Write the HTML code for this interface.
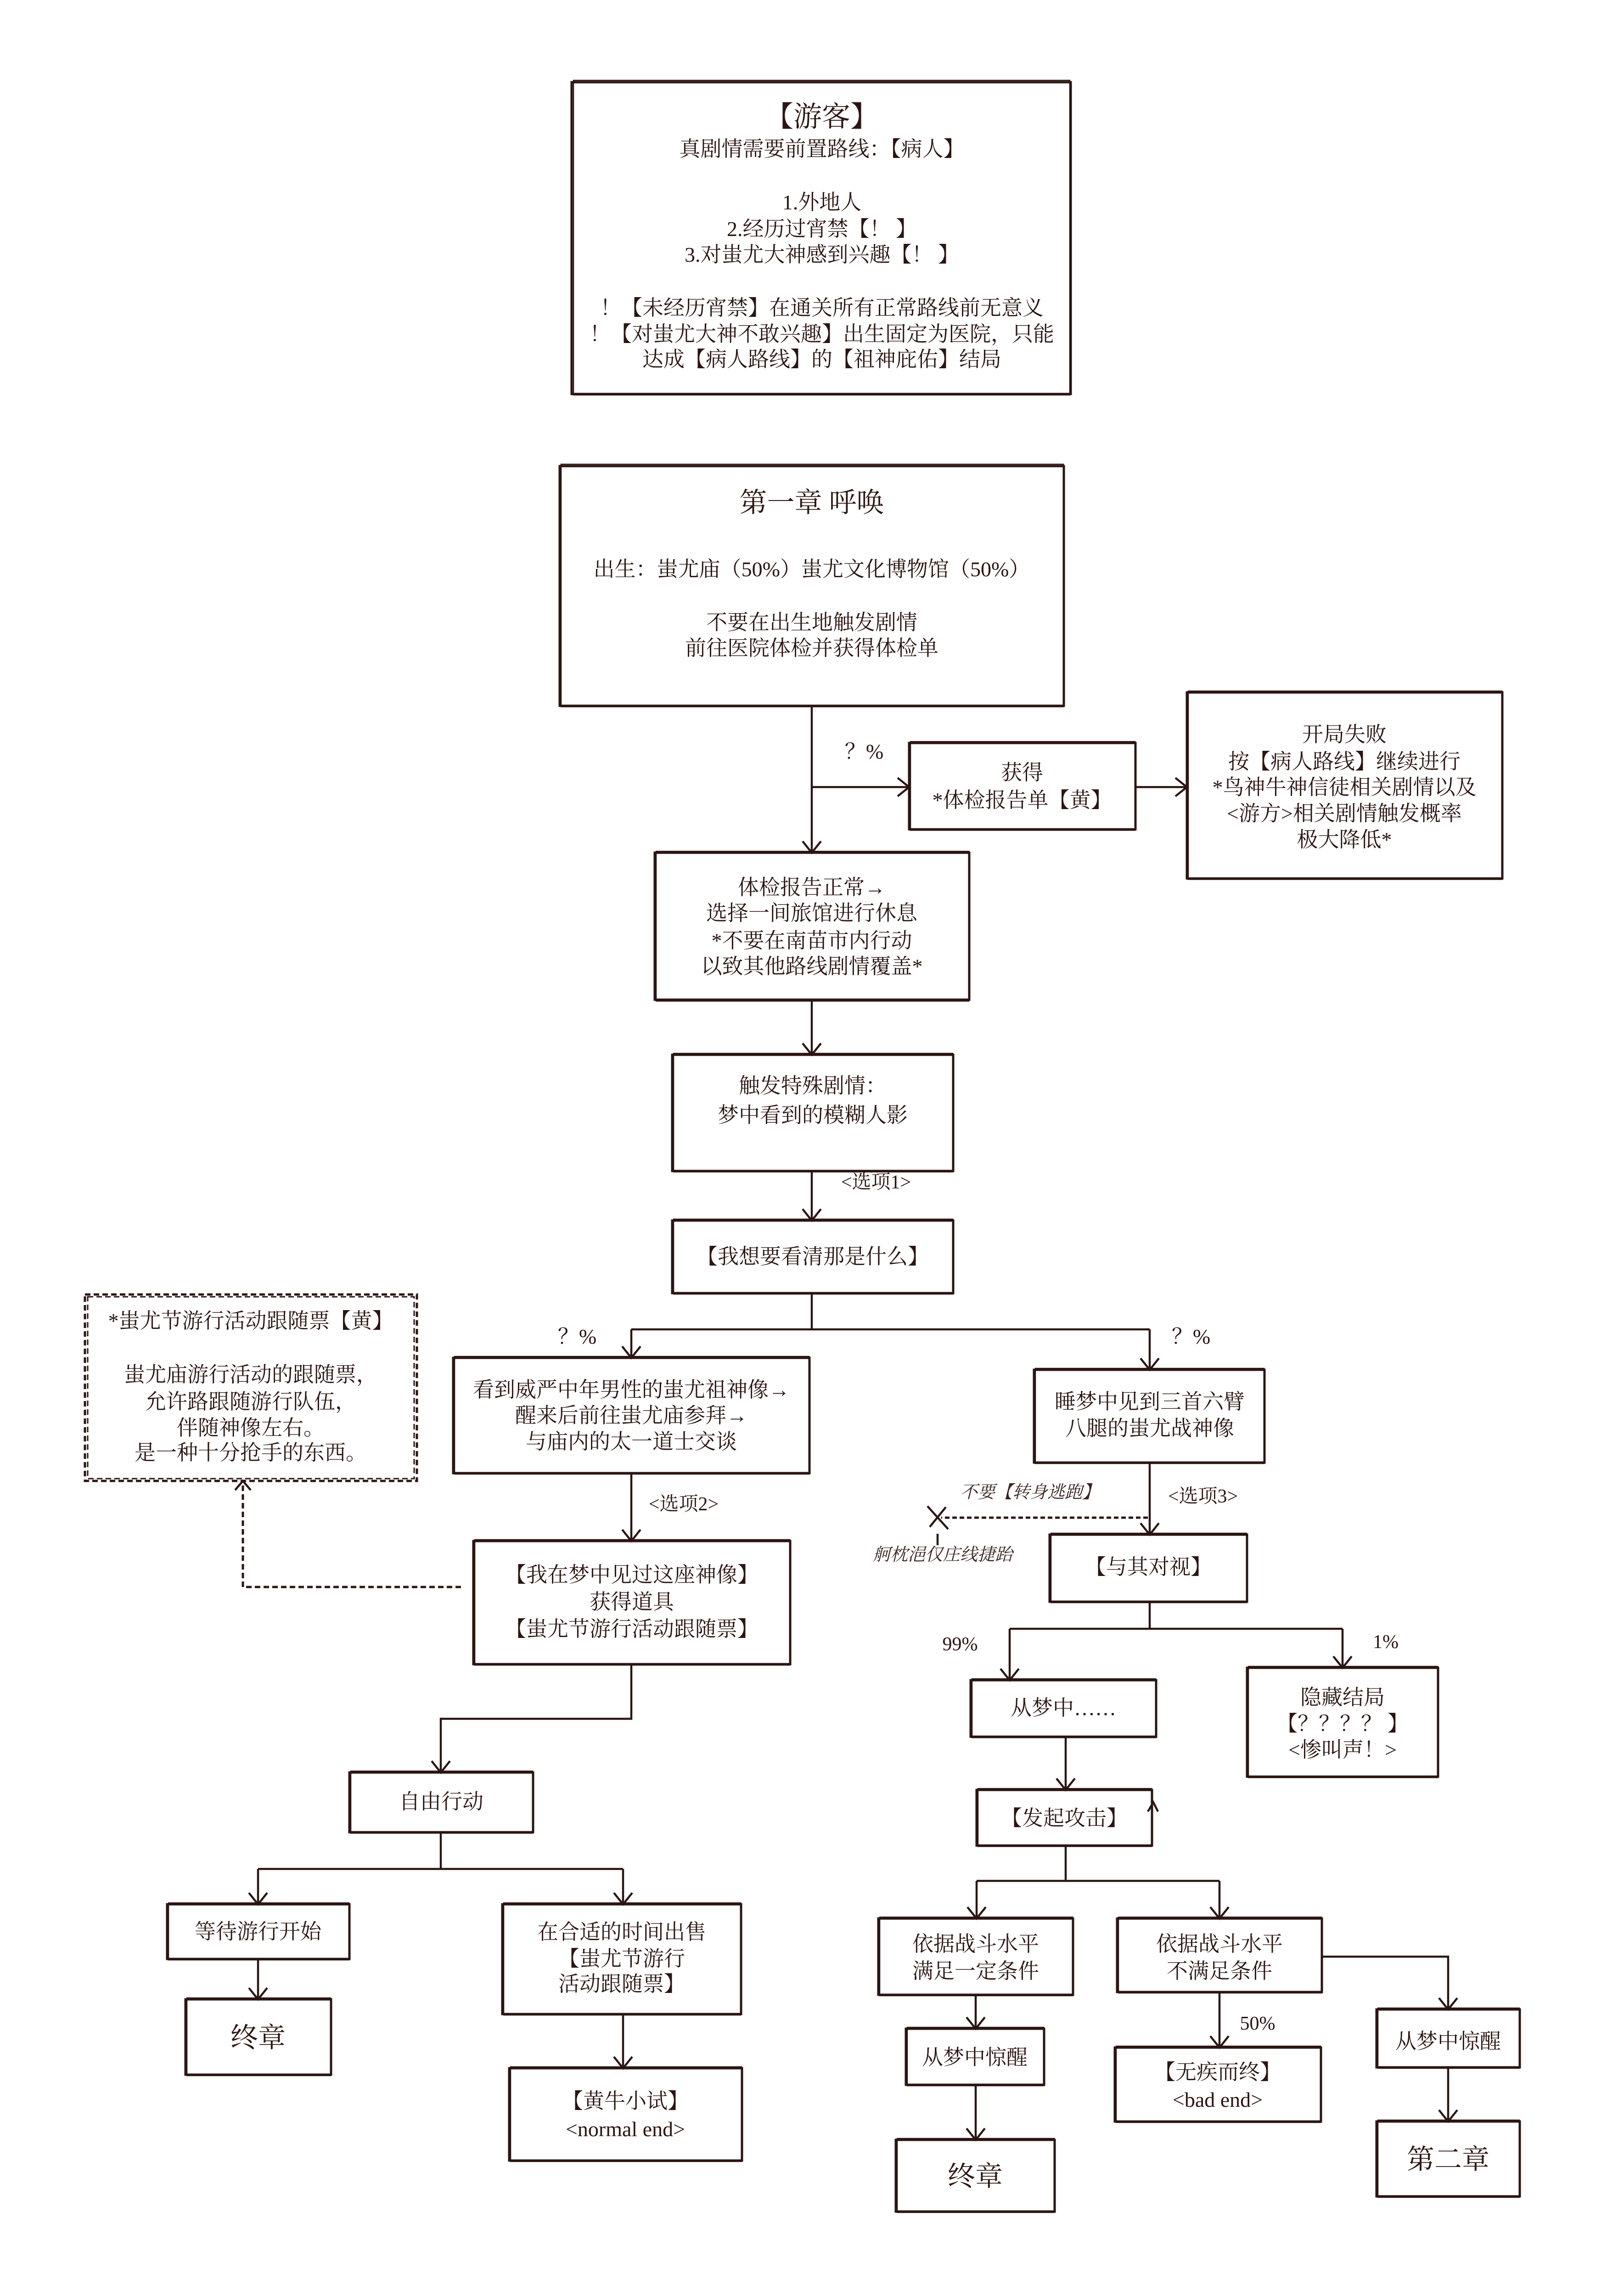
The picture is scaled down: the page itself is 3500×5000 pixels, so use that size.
<!DOCTYPE html>
<html><head><meta charset="utf-8"><style>
html,body{margin:0;padding:0;background:#fff;}
svg{display:block;}
text{font-family:"Liberation Serif","Noto Serif CJK SC",serif;fill:#2b1512;text-anchor:middle;}
.b{fill:none;stroke:#2b1512;stroke-width:5;}
.b2{fill:none;stroke:#2b1512;stroke-width:2.5;}
.l{fill:none;stroke:#2b1512;stroke-width:4.5;}
.d{fill:none;stroke:#2b1512;stroke-width:5;stroke-dasharray:12 7;}
</style></head><body>
<svg width="3500" height="5000" viewBox="0 0 3500 5000" xmlns="http://www.w3.org/2000/svg">
<defs>
<marker id="a" markerWidth="14" markerHeight="14" refX="12" refY="7" orient="auto" markerUnits="userSpaceOnUse" viewBox="0 0 14 14">
</marker>
</defs>
<g id="boxes">
<!-- 游客 -->
<rect class="b" x="1245" y="179" width="1087" height="679"/><rect class="b2" x="1249" y="175" width="1081" height="685"/>
<!-- 第一章 -->
<rect class="b" x="1219" y="1015" width="1098" height="522"/><rect class="b2" x="1222" y="1011" width="1094" height="528"/>
<!-- 获得 -->
<rect class="b" x="1980" y="1618" width="493" height="188"/><rect class="b2" x="1983" y="1615" width="489" height="193"/>
<!-- 开局失败 -->
<rect class="b" x="2585" y="1508" width="687" height="405"/><rect class="b2" x="2588" y="1505" width="683" height="410"/>
<!-- 体检报告 -->
<rect class="b" x="1426" y="1857" width="685" height="320"/><rect class="b2" x="1429" y="1854" width="681" height="326"/>
<!-- 触发 -->
<rect class="b" x="1464" y="2297" width="612" height="253"/><rect class="b2" x="1467" y="2294" width="608" height="258"/>
<!-- 我想 -->
<rect class="b" x="1464" y="2658" width="612" height="158"/><rect class="b2" x="1467" y="2655" width="608" height="163"/>
<!-- 看到威严 -->
<rect class="b" x="987" y="2957" width="776" height="251"/><rect class="b2" x="990" y="2954" width="772" height="256"/>
<!-- 睡梦 -->
<rect class="b" x="2252" y="2983" width="502" height="202"/><rect class="b2" x="2255" y="2980" width="498" height="207"/>
<!-- dashed -->
<rect class="d" x="185" y="2819" width="723" height="406"/><rect class="d" x="191" y="2824" width="711" height="396" style="stroke-width:3"/>
<!-- 我在梦中 -->
<rect class="b" x="1031" y="3356" width="690" height="268"/><rect class="b2" x="1034" y="3353" width="686" height="273"/>
<!-- 自由行动 -->
<rect class="b" x="761" y="3860" width="400" height="130"/><rect class="b2" x="764" y="3857" width="396" height="135"/>
<!-- 等待 -->
<rect class="b" x="364" y="4147" width="397" height="119"/><rect class="b2" x="367" y="4144" width="393" height="124"/>
<!-- 终章 left -->
<rect class="b" x="404" y="4354" width="317" height="164"/><rect class="b2" x="407" y="4351" width="313" height="169"/>
<!-- 在合适 -->
<rect class="b" x="1094" y="4147" width="520" height="239"/><rect class="b2" x="1097" y="4144" width="516" height="244"/>
<!-- 黄牛 -->
<rect class="b" x="1109" y="4504" width="507" height="201"/><rect class="b2" x="1112" y="4501" width="503" height="206"/>
<!-- 与其对视 -->
<rect class="b" x="2286" y="3342" width="430" height="146"/><rect class="b2" x="2289" y="3339" width="426" height="151"/>
<!-- 从梦中…… -->
<rect class="b" x="2114" y="3659" width="404" height="123"/><rect class="b2" x="2117" y="3656" width="400" height="128"/>
<!-- 隐藏结局 -->
<rect class="b" x="2716" y="3632" width="416" height="237"/><rect class="b2" x="2719" y="3629" width="412" height="242"/>
<!-- 发起攻击 -->
<rect class="b" x="2127" y="3898" width="382" height="121"/><rect class="b2" x="2130" y="3895" width="378" height="126"/>
<!-- 满足 -->
<rect class="b" x="1913" y="4178" width="424" height="166"/><rect class="b2" x="1916" y="4175" width="420" height="171"/>
<!-- 不满足 -->
<rect class="b" x="2433" y="4178" width="446" height="160"/><rect class="b2" x="2436" y="4175" width="442" height="165"/>
<!-- 从梦中惊醒 right -->
<rect class="b" x="2998" y="4376" width="312" height="126"/><rect class="b2" x="3001" y="4373" width="308" height="131"/>
<!-- 第二章 -->
<rect class="b" x="2998" y="4620" width="312" height="163"/><rect class="b2" x="3001" y="4617" width="308" height="168"/>
<!-- 无疾而终 -->
<rect class="b" x="2428" y="4459" width="449" height="161"/><rect class="b2" x="2431" y="4456" width="445" height="166"/>
<!-- 从梦中惊醒 left -->
<rect class="b" x="1973" y="4418" width="301" height="122"/><rect class="b2" x="1976" y="4415" width="297" height="127"/>
<!-- 终章 right -->
<rect class="b" x="1951" y="4660" width="346" height="156"/><rect class="b2" x="1954" y="4657" width="342" height="161"/>
</g>

<g id="lines">
<!-- arrows as lines + V heads -->
<path class="l" d="M1768 1537 L1768 1857 M1748 1832 L1768 1857 L1788 1832"/>
<path class="l" d="M1768 1714 L1980 1714 M1955 1694 L1980 1714 L1955 1734"/>
<path class="l" d="M2473 1714 L2585 1714 M2560 1694 L2585 1714 L2560 1734"/>
<path class="l" d="M1768 2177 L1768 2297 M1748 2272 L1768 2297 L1788 2272"/>
<path class="l" d="M1768 2550 L1768 2658 M1748 2633 L1768 2658 L1788 2633"/>
<path class="l" d="M1768 2816 L1768 2895 M1375 2895 L2504 2895 M1375 2895 L1375 2957 M1355 2932 L1375 2957 L1395 2932 M2504 2895 L2504 2983 M2484 2958 L2504 2983 L2524 2958"/>
<path class="l" d="M1375 3208 L1375 3356 M1355 3331 L1375 3356 L1395 3331"/>
<path class="d" d="M1004 3456 L529 3456 L529 3225"/>
<path class="l" d="M512 3245 L529 3225 L546 3245"/>
<path class="l" d="M1375 3624 L1375 3743 L960 3743 L960 3860 M940 3835 L960 3860 L980 3835"/>
<path class="l" d="M960 3990 L960 4070 M562 4070 L1357 4070 M562 4070 L562 4147 M542 4122 L562 4147 L582 4122 M1357 4070 L1357 4147 M1337 4122 L1357 4147 L1377 4122"/>
<path class="l" d="M562 4266 L562 4354 M542 4329 L562 4354 L582 4329"/>
<path class="l" d="M1357 4386 L1357 4504 M1337 4479 L1357 4504 L1377 4479"/>
<path class="l" d="M2504 3185 L2504 3342 M2484 3317 L2504 3342 L2524 3317"/>
<path class="d" d="M2500 3305 L2050 3305" style="stroke-dasharray:10 6"/>
<path class="l" d="M2020 3280 L2065 3330 M2060 3282 L2025 3325 M2042 3340 L2042 3365"/>
<path class="l" d="M2504 3488 L2504 3547 M2199 3547 L2924 3547 M2199 3547 L2199 3659 M2179 3634 L2199 3659 L2219 3634 M2924 3547 L2924 3632 M2904 3607 L2924 3632 L2944 3607"/>
<path class="l" d="M2321 3782 L2321 3898 M2301 3873 L2321 3898 L2341 3873"/>
<path class="l" d="M2500 3945 L2512 3925 L2522 3945"/>
<path class="l" d="M2321 4019 L2321 4096 M2127 4096 L2656 4096 M2127 4096 L2127 4178 M2107 4153 L2127 4178 L2147 4153 M2656 4096 L2656 4178 M2636 4153 L2656 4178 L2676 4153"/>
<path class="l" d="M2125 4344 L2125 4418 M2105 4393 L2125 4418 L2145 4393"/>
<path class="l" d="M2125 4540 L2125 4660 M2105 4635 L2125 4660 L2145 4635"/>
<path class="l" d="M2656 4338 L2656 4459 M2636 4434 L2656 4459 L2676 4434"/>
<path class="l" d="M2879 4261 L3154 4261 L3154 4376 M3134 4351 L3154 4376 L3174 4351"/>
<path class="l" d="M3154 4502 L3154 4620 M3134 4595 L3154 4620 L3174 4595"/>
</g>

<g font-size="46">
<text x="1790" y="275" font-size="62">【游客】</text>
<text x="1790" y="340">真剧情需要前置路线：【病人】</text>
<text x="1790" y="456">1.外地人</text>
<text x="1790" y="514">2.经历过宵禁【！ 】</text>
<text x="1790" y="570">3.对蚩尤大神感到兴趣【！ 】</text>
<text x="1790" y="686">！【未经历宵禁】在通关所有正常路线前无意义</text>
<text x="1790" y="743">！【对蚩尤大神不敢兴趣】出生固定为医院，只能</text>
<text x="1790" y="798">达成【病人路线】的【祖神庇佑】结局</text>

<text x="1768" y="1115" font-size="60">第一章  呼唤</text>
<text x="1768" y="1255">出生：蚩尤庙（50%）蚩尤文化博物馆（50%）</text>
<text x="1768" y="1371">不要在出生地触发剧情</text>
<text x="1768" y="1427">前往医院体检并获得体检单</text>

<text x="1882" y="1652">？%</text>
<text x="2226" y="1698">获得</text>
<text x="2226" y="1758">*体检报告单【黄】</text>

<text x="2928" y="1615">开局失败</text>
<text x="2928" y="1674">按【病人路线】继续进行</text>
<text x="2928" y="1730">*鸟神牛神信徒相关剧情以及</text>
<text x="2928" y="1787">&lt;游方&gt;相关剧情触发概率</text>
<text x="2928" y="1844">极大降低*</text>

<text x="1768" y="1948">体检报告正常→</text>
<text x="1768" y="2004">选择一间旅馆进行休息</text>
<text x="1768" y="2064">*不要在南苗市内行动</text>
<text x="1768" y="2120">以致其他路线剧情覆盖*</text>

<text x="1770" y="2380">触发特殊剧情：</text>
<text x="1770" y="2444">梦中看到的模糊人影</text>
<text x="1908" y="2588" font-size="42">&lt;选项1&gt;</text>
<text x="1770" y="2752">【我想要看清那是什么】</text>

<text x="1257" y="2926">？%</text>
<text x="2594" y="2926">？%</text>
<text x="1375" y="3042">看到威严中年男性的蚩尤祖神像→</text>
<text x="1375" y="3098">醒来后前往蚩尤庙参拜→</text>
<text x="1375" y="3155">与庙内的太一道士交谈</text>
<text x="2504" y="3068">睡梦中见到三首六臂</text>
<text x="2504" y="3126">八腿的蚩尤战神像</text>

<text x="546" y="2892">*蚩尤节游行活动跟随票【黄】</text>
<text x="546" y="3009">蚩尤庙游行活动的跟随票，</text>
<text x="546" y="3068">允许路跟随游行队伍，</text>
<text x="546" y="3125">伴随神像左右。</text>
<text x="546" y="3179">是一种十分抢手的东西。</text>

<text x="1489" y="3289" font-size="42">&lt;选项2&gt;</text>
<text x="1376" y="3445">【我在梦中见过这座神像】</text>
<text x="1376" y="3504">获得道具</text>
<text x="1376" y="3563">【蚩尤节游行活动跟随票】</text>
<text x="961" y="3939">自由行动</text>
<text x="562" y="4222">等待游行开始</text>
<text x="562" y="4458" font-size="60">终章</text>
<text x="1354" y="4223">在合适的时间出售</text>
<text x="1354" y="4281">【蚩尤节游行</text>
<text x="1354" y="4336">活动跟随票】</text>
<text x="1362" y="4591">【黄牛小试】</text>
<text x="1362" y="4652">&lt;normal end&gt;</text>

<text x="2620" y="3272" font-size="42">&lt;选项3&gt;</text>
<text x="2243" y="3262" font-size="38" style="fill:#3a2420;font-style:italic">不要【转身逃跑】</text>
<text x="2053" y="3398" font-size="38" style="fill:#3a2420;font-style:italic">舸枕浥仅庄线捷跆</text>
<text x="2501" y="3428">【与其对视】</text>
<text x="2091" y="3594" font-size="42">99%</text>
<text x="3018" y="3589" font-size="42">1%</text>
<text x="2316" y="3735">从梦中……</text>
<text x="2924" y="3712">隐藏结局</text>
<text x="2924" y="3769">【？？？？ 】</text>
<text x="2924" y="3826">&lt;惨叫声！&gt;</text>
<text x="2318" y="3975">【发起攻击】</text>
<text x="2125" y="4249">依据战斗水平</text>
<text x="2125" y="4308">满足一定条件</text>
<text x="2656" y="4249">依据战斗水平</text>
<text x="2656" y="4308">不满足条件</text>
<text x="2739" y="4420" font-size="42">50%</text>
<text x="2652" y="4528">【无疾而终】</text>
<text x="2652" y="4588">&lt;bad end&gt;</text>
<text x="2123" y="4496">从梦中惊醒</text>
<text x="2124" y="4760" font-size="60">终章</text>
<text x="3154" y="4461">从梦中惊醒</text>
<text x="3154" y="4723" font-size="60">第二章</text>
</g>
</svg>
</body></html>
